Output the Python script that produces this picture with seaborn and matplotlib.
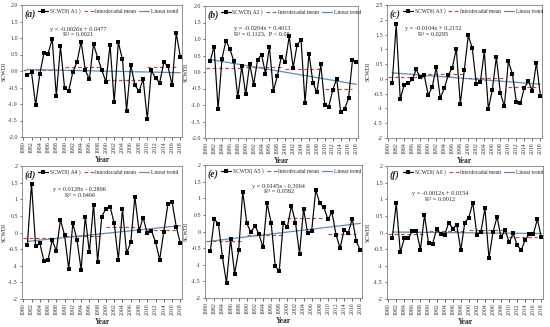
import matplotlib
matplotlib.use("Agg")
import matplotlib.pyplot as plt
import numpy as np
import pandas as pd
import seaborn as sns

years = list(range(1981, 2019))

a1 = [-0.12, -0.04, -1.03, -0.10, 0.54, 0.52, 0.98, -0.76, 0.75, -0.52,
      -0.60, -0.03, 0.27, 0.89, 0.03, -0.25, 0.82, 0.40, 0.03, -0.33,
      0.80, -0.95, 0.87, 0.35, -1.20, 0.19, -0.42, -0.62, -0.24, -1.45,
      0.02, -0.22, -0.35, 0.26, 0.15, -0.43, 1.15, 0.43]
a2 = [0.33, 0.77, -1.12, 0.40, 0.95, 0.70, 0.32, -0.77, 0.17, -0.68,
      0.25, -0.38, 0.37, 0.53, -0.05, 0.76, -0.57, -0.12, 0.46, 0.30,
      1.08, 0.13, 0.83, 0.97, -0.93, 0.56, -0.32, -0.62, 0.23, -1.01,
      -1.05, -0.55, -0.20, -1.20, -1.12, -0.80, 0.35, 0.30]
a3 = [-0.15, 1.85, -0.68, -0.20, -0.15, -0.02, 0.32, 0.05, 0.12, -0.55,
      -0.27, 0.40, -0.65, -0.32, 0.13, 0.37, 1.02, -0.85, 0.30, 1.47,
      1.03, -0.18, -0.12, 0.93, -1.02, -0.37, 0.74, -0.47, -0.93, 0.60,
      0.17, -0.78, -0.82, -0.30, -0.08, -0.40, 0.55, -0.58]
a4 = [-0.37, 1.47, -0.42, -0.32, -0.85, -0.82, -0.23, -0.55, 0.38, -0.08,
      -1.10, 0.28, -0.22, -1.12, 0.48, -0.60, 0.84, -0.88, 0.48, 0.72,
      0.78, 0.28, -0.82, 0.70, -0.62, -0.30, 1.08, 0.05, 0.45, -0.03,
      0.05, -0.28, -0.82, 0.03, 0.85, 0.92, 0.18, -0.33]
a5 = [-0.60, 0.37, 0.23, -0.77, -1.55, -0.23, -1.27, -0.57, 1.20, 0.25,
      -0.03, 0.18, -0.08, -0.48, 0.85, 0.27, -1.03, -1.20, 0.27, 0.13,
      0.77, 0.27, -0.67, 0.68, -0.05, 0.03, 1.25, 0.85, 0.73, 0.37,
      0.58, -0.10, -0.50, 0.05, -0.05, 0.38, -0.30, -0.57]
a0 = [-0.17, 0.88, -0.60, -0.18, -0.18, 0.05, 0.05, -0.52, 0.53, -0.32,
      -0.35, 0.10, -0.05, -0.08, 0.30, 0.12, 0.23, -0.53, 0.30, 0.45,
      0.90, -0.08, 0.02, 0.73, -0.77, 0.02, 0.47, -0.15, 0.08, -0.30,
      -0.03, -0.38, -0.53, -0.22, -0.05, -0.05, 0.40, -0.15]

decade_start = [1981, 1991, 2001, 2011]
decade_end = [1990, 2000, 2010, 2018]
means_a1 = [0.02, 0.12, -0.27, 0.12]
means_a2 = [0.11, 0.15, 0.09, -0.53]
means_a3 = [0.06, 0.16, 0.02, -0.28]
means_a4 = [-0.18, -0.11, 0.16, 0.08]
means_a5 = [-0.29, -0.11, 0.42, -0.07]
means_a0 = [-0.05, 0.05, 0.09, -0.13]

slopes = [-0.0026, -0.0204, -0.0104, 0.0128, 0.0145, -0.0012]
intercepts = [0.0477, 0.4013, 0.2152, -0.2806, -0.3064, 0.0154]
eq_texts = ["y = -0.0026x + 0.0477", "y = -0.0204x + 0.4013", "y = -0.0104x + 0.2152",
            "y = 0.0128x - 0.2806", "y = 0.0145x - 0.3064", "y = -0.0012x + 0.0154"]
r2_texts = ["R² = 0.0021", "R² = 0.1123,  P < 0.05", "R² = 0.0295",
            "R² = 0.0466", "R² = 0.0582", "R² = 0.0012"]
series_names = ["SCWDI( A1 )", "SCWDI( A2 )", "SCWDI( A3 )",
                "SCWDI( A4 )", "SCWDI( A5 )", "SCWDI( A0 )"]
panel_labels = ["(a)", "(b)", "(c)", "(d)", "(e)", "(f)"]

series = [a1, a2, a3, a4, a5, a0]
means = [means_a1, means_a2, means_a3, means_a4, means_a5, means_a0]

sns.set_style("ticks")
plt.rcParams["font.family"] = ["Liberation Serif", "DejaVu Sans"]

W, H = 550, 327
fig = plt.figure(figsize=(W / 100, H / 100), dpi=100)

boxes = [(22, 5, 182, 137), (205, 6, 358, 138), (387, 5, 542, 138),
         (22, 166, 182, 299), (205, 165, 362, 298), (387, 166, 543, 299)]
ylims = [(-2, 2), (-2, 2), (-2, 2.5), (-2, 2), (-2, 2), (-2, 2)]
fmt_fixed = [True, True, False, False, False, False]
eq_pos = [(0.35, 0.816, 0.778, "center"), (0.19, 0.83, 0.79, "left"),
          (0.30, 0.82, 0.78, "center"), (0.36, 0.82, 0.78, "center"),
          (0.47, 0.84, 0.80, "center"), (0.34, 0.79, 0.75, "center")]

mean_color = "#C0504D"
trend_color = "#5B8DB8"

for i in range(6):
    l, t, r, b = boxes[i]
    ax = fig.add_axes([l / W, 1 - b / H, (r - l) / W, (b - t) / H])
    df = pd.DataFrame({"Year": years, "SCWDI": series[i]})
    sns.lineplot(data=df, x="Year", y="SCWDI", ax=ax, color="black", lw=0.85,
                 marker="s", markersize=2.5, markeredgewidth=0, zorder=3,
                 label=series_names[i])
    # interdecadal means
    for k in range(4):
        seg = pd.DataFrame({"x": [decade_start[k] - 1, decade_end[k] - 1],
                            "y": [means[i][k], means[i][k]]})
        sns.lineplot(data=seg, x="x", y="y", ax=ax, color=mean_color, lw=0.9,
                     linestyle=(0, (3, 2)), zorder=2,
                     label="Interdecadal mean" if k == 0 else None)
    # linear trend from stated equation
    idx = np.arange(1, len(years) + 1)
    tr = pd.DataFrame({"x": years, "y": slopes[i] * idx + intercepts[i]})
    sns.lineplot(data=tr, x="x", y="y", ax=ax, color=trend_color, lw=0.9,
                 zorder=2, label="Linear trend")

    ax.set_xlim(1979.7, 2018.4)
    ax.set_ylim(*ylims[i])
    ax.set_xticks(list(range(1980, 2019, 2)))
    ax.set_xticklabels([str(y) for y in range(1980, 2019, 2)], rotation=90,
                       fontsize=4.2)
    yt = np.arange(ylims[i][0], ylims[i][1] + 0.01, 0.5)
    ax.set_yticks(yt)
    if fmt_fixed[i]:
        ax.set_yticklabels([f"{v:.1f}" for v in yt], fontsize=4.3)
    else:
        ax.set_yticklabels([f"{v:g}" for v in yt], fontsize=4.3)
    ax.tick_params(axis="both", length=1.8, width=0.5, pad=1.2, colors="#333333")
    for s in ax.spines.values():
        s.set_linewidth(0.6)
        s.set_color("#7f7f7f")
        s.set_visible(True)
    ax.set_xlabel("Year", fontsize=5.5, fontweight="bold", labelpad=2)
    ax.set_ylabel("SCWDI", fontsize=4.3, labelpad=1.5)

    ex, ey1, ey2, ha = eq_pos[i]
    ax.text(ex, ey1, eq_texts[i], transform=ax.transAxes, fontsize=4.5, ha=ha,
            va="center")
    ax.text(ex, ey2, r2_texts[i], transform=ax.transAxes,
            fontsize=4.5, ha=ha, va="center")
    ax.text(0.015, 0.965, panel_labels[i], transform=ax.transAxes, fontsize=7,
            style="italic", fontweight="bold", ha="left", va="top")

    ax.legend(loc="upper left", bbox_to_anchor=(0.085, 0.995), ncol=3,
              frameon=False, fontsize=4.0, handlelength=1.8, handletextpad=0.3,
              columnspacing=0.55, borderaxespad=0.3, borderpad=0.2)

fig.savefig("out.png", dpi=100)
